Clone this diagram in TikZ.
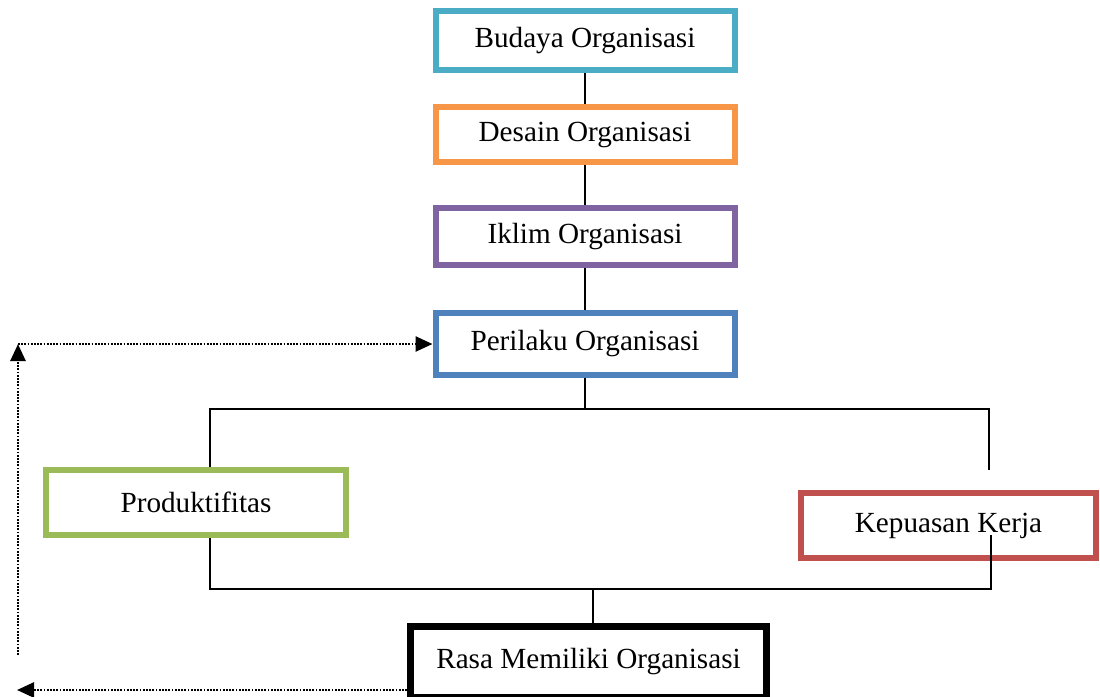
\documentclass[tikz,border=0pt]{standalone}
\usepackage{fontspec}
\setmainfont{Liberation Serif}
\usetikzlibrary{positioning,arrows.meta}
\definecolor{BudTeal}{RGB}{75,172,198}
\definecolor{DesOrange}{RGB}{247,150,70}
\definecolor{IklPurple}{RGB}{128,100,162}
\definecolor{PerBlue}{RGB}{79,129,189}
\definecolor{ProdGreen}{RGB}{155,187,89}
\definecolor{KepRed}{RGB}{192,80,77}

\begin{document}
\begin{tikzpicture}[x=0.5pt,y=-0.5pt,
bx/.style={draw=#1,line width=3pt,fill=white,minimum width=149.5pt,font=\fontsize{14.6}{17}\selectfont,align=center,inner sep=0pt},
ln/.style={line width=0.8pt,black},
dot/.style={line width=1.3pt,dash pattern=on 0.9pt off 0.7pt,-{Triangle[length=8.5pt,width=7.5pt]}}
]
\useasboundingbox (0,0) rectangle (1100,697);
% kolom atas
\node[bx=BudTeal,minimum height=29.5pt] (bud) at (585,40.5) {Budaya Organisasi};
\node[bx=DesOrange,minimum height=27.5pt] (des) at (585,134.5) {Desain Organisasi};
\node[bx=IklPurple,minimum height=28.5pt] (ikl) at (585,236.5) {Iklim Organisasi};
\node[bx=PerBlue,minimum height=31pt] (per) at (585,344) {Perilaku Organisasi};
% cabang
\node[bx=ProdGreen,minimum width=150pt,minimum height=32.5pt] (prod) at (196,502.5) {Produktifitas};
\node[bx=KepRed,minimum width=147.5pt,minimum height=32.5pt] (kep) at (948.5,525.5) {Kepuasan Kerja};
\node[bx=black,line width=3.5pt,minimum width=178pt,minimum height=35.5pt] (rasa) at (588.5,662) {Rasa Memiliki Organisasi};
% titik bantu
\coordinate (tl) at (210,409);
\coordinate (tr) at (989,409);
\coordinate (trEnd) at (989,470);
\coordinate (bl) at (210,589);
\coordinate (br) at (991,589);
\coordinate (kepIn) at (991,535);
\coordinate (bm) at (593,589);
\coordinate (lc) at (18,344);
\coordinate (lb) at (18,655);
\coordinate (bt) at (17,690);
% garis
\draw[ln] (bud) -- (des);
\draw[ln] (des) -- (ikl);
\draw[ln] (ikl) -- (per);
\draw[ln] (per.south) -- (per.south |- tl);
\draw[ln] (tl |- prod.north) -- (tl) -- (tr) -- (trEnd);
\draw[ln] (prod.south -| bl) -- (bl) -- (br) -- (kepIn);
\draw[ln] (bm) -- (bm |- rasa.north);
% umpan balik
\draw[dot] (lb) -- (lc);
\draw[dot] (lc) -- (per.west);
\draw[dot] (rasa.west |- bt) -- (bt);
\end{tikzpicture}
\end{document}
